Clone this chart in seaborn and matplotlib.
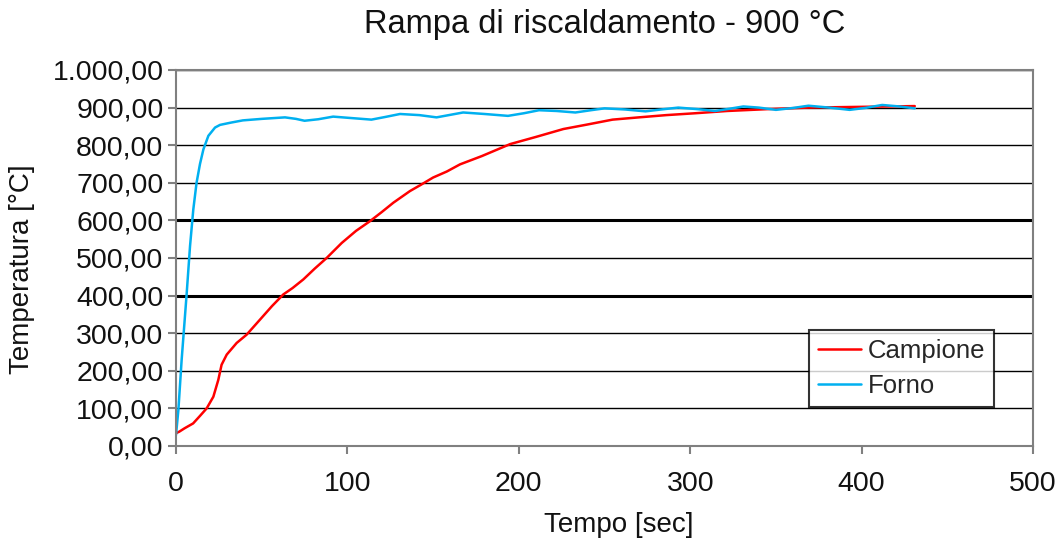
import matplotlib
matplotlib.use("Agg")
import matplotlib.pyplot as plt
import seaborn as sns
import pandas as pd
from matplotlib.ticker import FuncFormatter, MultipleLocator

# ---- data ----
forno_t = [0, 1.4, 3.3, 6.2, 8.2, 10.1, 12, 14, 16, 18.9, 22.8, 25.7, 32, 39, 50, 63.6, 70, 75, 83,
           91.7, 100, 114, 122, 130.7, 142, 152, 167.5, 180, 193.7, 203, 211.8, 222, 233, 242, 250,
           262, 273.9, 283, 293, 304, 314.5, 323, 331, 340, 350, 360, 369, 381, 393, 402, 412, 422, 431]
forno_v = [29, 96, 229, 403, 532, 629, 700, 750, 789, 825, 847, 854, 860, 866, 870, 874, 870, 865, 869,
           876, 873, 868, 875, 883, 880, 874, 887, 883, 878, 885, 893, 891, 887, 893, 898,
           895, 890, 895, 900, 896, 891, 897, 903, 900, 894, 899, 905, 900, 894, 899, 907, 903, 898]

campione_t = [0, 1.9, 5, 10, 14, 17.9, 21.8, 24.7, 26.6, 29.6, 35.4, 41.2, 49, 56, 62.6, 68, 74.3, 81,
              87.9, 96.7, 105, 113.2, 120, 126.8, 136.5, 143, 150, 158, 165.7, 178.4, 195, 210, 226,
              240, 254.7, 270, 286, 303, 321.6, 345.6, 369, 400, 431]
campione_v = [34, 38, 47, 60, 80, 100, 131, 176, 216, 243, 274, 296, 336, 372, 403, 420, 443, 472,
              500, 540, 572, 598, 622, 647, 678, 695, 714, 730, 749, 771, 803, 822, 843,
              855, 868, 874, 880, 885, 891, 896, 900, 902, 904]

series_names = ["Campione", "Forno"]
series_colors = ["#FF0000", "#00B0F0"]
x_ticks = [0, 100, 200, 300, 400, 500]
bold_grid = [400, 600]

title = "Rampa di riscaldamento - 900 °C"
xlabel = "Tempo [sec]"
ylabel = "Temperatura [°C]"

df = pd.concat([
    pd.DataFrame({"Tempo": campione_t, "Temp": campione_v, "Serie": series_names[0]}),
    pd.DataFrame({"Tempo": forno_t, "Temp": forno_v, "Serie": series_names[1]}),
], ignore_index=True)

sns.set_theme(style="white")
plt.rcParams["font.family"] = ["Liberation Sans", "DejaVu Sans"]

fig = plt.figure(figsize=(10.64, 5.46), dpi=100)
ax = fig.add_axes([0.1654, 0.1832, 0.9709 - 0.1654, 0.8718 - 0.1832])

sns.lineplot(data=df, x="Tempo", y="Temp", hue="Serie", hue_order=series_names,
             palette=dict(zip(series_names, series_colors)), linewidth=1.8, ax=ax,
             estimator=None, sort=False)

ax.set_xlim(0, 500)
ax.set_ylim(0, 1000)
ax.set_xticks(x_ticks)
ax.yaxis.set_major_locator(MultipleLocator(100))

def fmt_it(v, pos):
    s = f"{v:,.2f}"
    return s.replace(",", "X").replace(".", ",").replace("X", ".")

ax.yaxis.set_major_formatter(FuncFormatter(fmt_it))

ax.yaxis.grid(True, color="black", linewidth=1.0)
ax.xaxis.grid(False)
ax.set_axisbelow(True)
for yv in bold_grid:
    ax.axhline(yv, color="black", linewidth=2.2, zorder=0.6)

for sp in ax.spines.values():
    sp.set_color("#808080")
    sp.set_linewidth(1.5)

ax.tick_params(axis="both", which="major", labelsize=20.5, colors="#808080",
               labelcolor="#111111", direction="out", length=6, width=1.5, left=True, bottom=True)
ax.tick_params(axis="y", pad=3)
ax.tick_params(axis="x", pad=12)

ax.set_title(title, fontsize=23.5, color="#111111", pad=26.5)
ax.set_xlabel(xlabel, fontsize=20, color="#111111")
ax.set_ylabel(ylabel, fontsize=20, color="#111111")
ax.xaxis.set_label_coords(0.517, -0.176)
ax.yaxis.set_label_coords(-0.1645, 0.469)

leg = ax.legend(loc="upper left", bbox_to_anchor=(0.7386, 0.309), fontsize=18.5, frameon=True,
                fancybox=False, shadow=False, handlelength=1.67, borderpad=0.35, labelspacing=0.45,
                handletextpad=0.27, borderaxespad=0)
leg.get_frame().set_edgecolor("black")
leg.get_frame().set_linewidth(1.5)
for h in leg.get_lines():
    h.set_linewidth(1.8)

fig.savefig("out.png", dpi=100)
